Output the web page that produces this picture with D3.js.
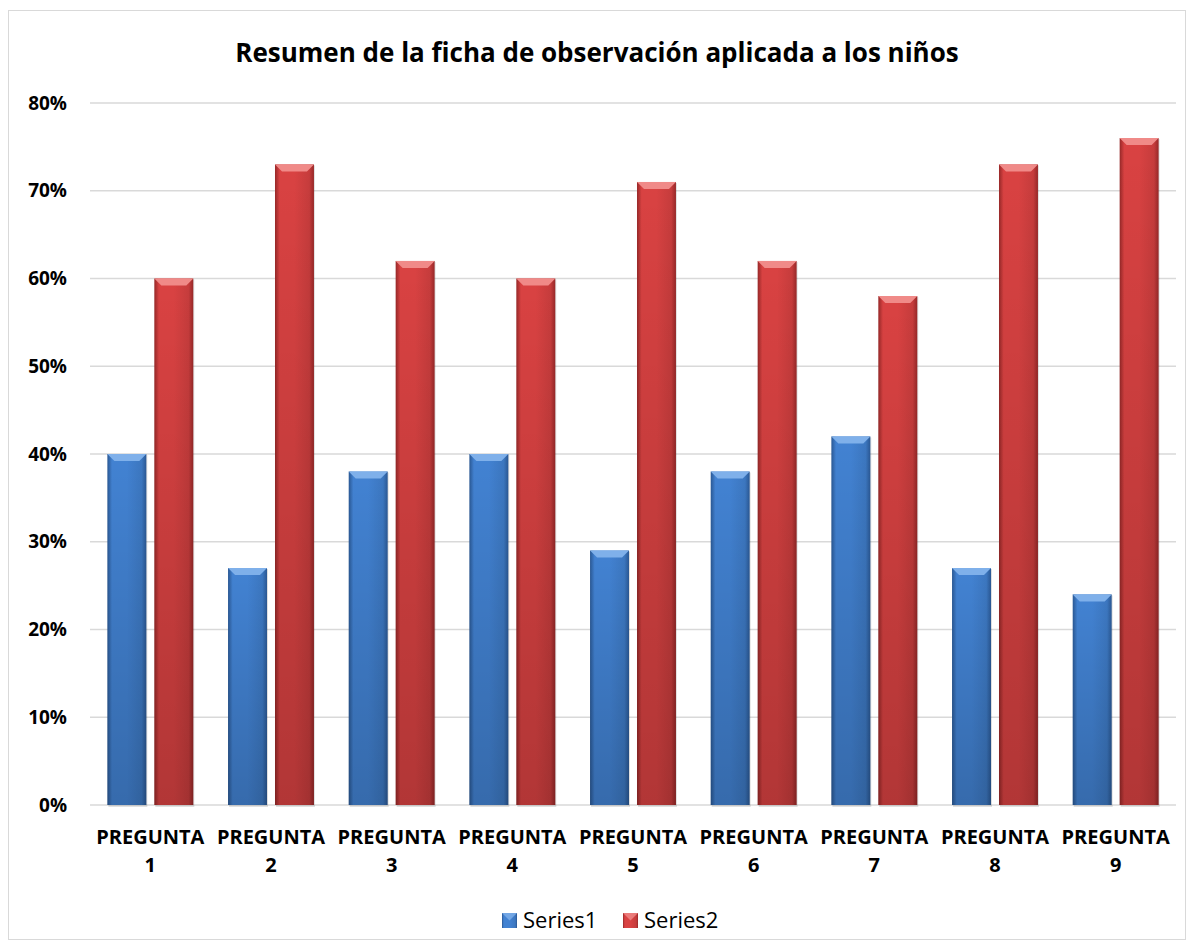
<!DOCTYPE html>
<html>
<head>
<meta charset="utf-8">
<script src="https://cdn.jsdelivr.net/npm/d3@7"></script>
<style>
  body { margin: 0; background: #fff; }
  text { font-family: "Open Sans", "Noto Sans", sans-serif; }
</style>
</head>
<body>
<div id="chart"></div>
<script>
var categories = ["PREGUNTA 1", "PREGUNTA 2", "PREGUNTA 3", "PREGUNTA 4", "PREGUNTA 5",
                  "PREGUNTA 6", "PREGUNTA 7", "PREGUNTA 8", "PREGUNTA 9"];
var series1 = [0.40, 0.27, 0.38, 0.40, 0.29, 0.38, 0.42, 0.27, 0.24];
var series2 = [0.60, 0.73, 0.62, 0.60, 0.71, 0.62, 0.58, 0.73, 0.76];
var seriesNames = ["Series1", "Series2"];
var yTicks = [0, 0.1, 0.2, 0.3, 0.4, 0.5, 0.6, 0.7, 0.8];

var W = 1194, H = 950;
var margin = {top: 103, right: 18, bottom: 145, left: 90};

var svg = d3.select("#chart").append("svg")
    .attr("width", W)
    .attr("height", H);

// gradients for the bevelled bars
var defs = svg.append("defs");
var palette = [
    {id: "g0", edge: "#2a5894", mid: "#4282d2", top: "#7fb0ea"},
    {id: "g1", edge: "#972828", mid: "#d94242", top: "#f08a88"}
];
palette.forEach(function(p){
    var g = defs.append("linearGradient").attr("id", p.id)
        .attr("x1", "0%").attr("x2", "100%").attr("y1", "0%").attr("y2", "0%");
    g.append("stop").attr("offset", "0%").attr("stop-color", p.edge);
    g.append("stop").attr("offset", "12%").attr("stop-color", p.mid);
    g.append("stop").attr("offset", "50%").attr("stop-color", p.mid);
    g.append("stop").attr("offset", "88%").attr("stop-color", d3.color(p.mid).darker(0.25));
    g.append("stop").attr("offset", "100%").attr("stop-color", p.edge);
});
// bars darken towards the base
var shade = defs.append("linearGradient").attr("id", "shade")
    .attr("x1", "0%").attr("x2", "0%").attr("y1", "0%").attr("y2", "100%");
shade.append("stop").attr("offset", "0%").attr("stop-color", "#000").attr("stop-opacity", 0);
shade.append("stop").attr("offset", "100%").attr("stop-color", "#000").attr("stop-opacity", 0.18);

// chart border
svg.append("rect")
    .attr("x", 8.5).attr("y", 10.5)
    .attr("width", 1177).attr("height", 929)
    .attr("fill", "#fff")
    .attr("stroke", "#d9d9d9");

svg.append("text")
    .attr("x", W / 2)
    .attr("y", 62)
    .attr("text-anchor", "middle")
    .style("font-size", "26px")
    .style("font-weight", "bold")
    .text("Resumen de la ficha de observación aplicada a los niños");

var y = d3.scaleLinear().domain([0, 0.8]).range([805, 103]);
var x0 = d3.scaleBand().domain(categories).range([margin.left, W - margin.right]).paddingInner(0).paddingOuter(0);
var x1 = d3.scaleBand().domain(seriesNames).range([0, x0.bandwidth()]).paddingInner(0.17).paddingOuter(0.37);

// gridlines
svg.append("g")
    .selectAll("line")
    .data(yTicks)
    .enter().append("line")
    .attr("x1", margin.left)
    .attr("x2", W - margin.right)
    .attr("y1", function(d){ return y(d); })
    .attr("y2", function(d){ return y(d); })
    .attr("stroke", "#d9d9d9")
    .attr("stroke-width", 1.5);

// y axis labels
var yAxis = d3.axisLeft(y).tickValues(yTicks).tickFormat(d3.format(".0%")).tickSize(0).tickPadding(0);
var ya = svg.append("g").attr("transform", "translate(67,0)").call(yAxis);
ya.select(".domain").remove();
ya.selectAll("text")
    .style("font-size", "19px")
    .style("font-weight", "bold")
    .attr("fill", "#000")
    .style("font-family", "'Open Sans', sans-serif");

var rows = categories.map(function(c, i){
    return {cat: c, values: [series1[i], series2[i]]};
});

var groups = svg.append("g").selectAll("g")
    .data(rows)
    .enter().append("g")
    .attr("transform", function(d){ return "translate(" + x0(d.cat) + ",0)"; });

var bars = groups.selectAll("g")
    .data(function(d){ return d.values.map(function(v, k){ return {k: k, v: v}; }); })
    .enter().append("g");

var bw = x1.bandwidth();
// soft shadow
bars.append("rect")
    .attr("x", function(d){ return x1(seriesNames[d.k]) + 1; })
    .attr("y", function(d){ return y(d.v) + 1; })
    .attr("width", bw)
    .attr("height", function(d){ return 805 - y(d.v) + 1; })
    .attr("fill", "#000")
    .attr("opacity", 0.12);

bars.append("rect")
    .attr("x", function(d){ return x1(seriesNames[d.k]); })
    .attr("y", function(d){ return y(d.v); })
    .attr("width", bw)
    .attr("height", function(d){ return 805 - y(d.v); })
    .attr("fill", function(d){ return "url(#g" + d.k + ")"; });

bars.append("rect")
    .attr("x", function(d){ return x1(seriesNames[d.k]); })
    .attr("y", function(d){ return y(d.v); })
    .attr("width", bw)
    .attr("height", function(d){ return 805 - y(d.v); })
    .attr("fill", "url(#shade)");

// top bevel
bars.append("path")
    .attr("d", function(d){
        var bx = x1(seriesNames[d.k]), by = y(d.v), b = 7;
        return "M" + bx + "," + by + "L" + (bx + bw) + "," + by +
            "L" + (bx + bw - b) + "," + (by + b) + "L" + (bx + b) + "," + (by + b) + "Z";
    })
    .attr("fill", function(d){ return palette[d.k].top; });

// x labels
var labels = svg.append("g").selectAll("text")
    .data(categories)
    .enter().append("text")
    .attr("x", function(d){ return x0(d) + x0.bandwidth() / 2; })
    .attr("y", 844)
    .attr("text-anchor", "middle")
    .style("font-size", "20px")
    .style("font-weight", "bold");
labels.append("tspan")
    .attr("x", function(d){ return x0(d) + x0.bandwidth() / 2; })
    .text(function(d){ return d.split(" ")[0]; });
labels.append("tspan")
    .attr("x", function(d){ return x0(d) + x0.bandwidth() / 2; })
    .attr("dy", 28)
    .text(function(d){ return d.split(" ")[1]; });

// legend
var legend = svg.append("g").selectAll("g")
    .data(seriesNames)
    .enter().append("g")
    .attr("transform", function(d, i){ return "translate(" + (502 + i * 121) + ",913)"; });
legend.append("rect")
    .attr("width", 15).attr("height", 15)
    .attr("fill", function(d, i){ return "url(#g" + i + ")"; });
legend.append("path")
    .attr("d", "M0,0L15,0L7.5,7.5Z")
    .attr("fill", function(d, i){ return palette[i].top; })
    .attr("opacity", 0.8);
legend.append("text")
    .attr("x", 21)
    .attr("y", 15)
    .style("font-size", "22px")
    .text(function(d){ return d; });
</script>
</body>
</html>
